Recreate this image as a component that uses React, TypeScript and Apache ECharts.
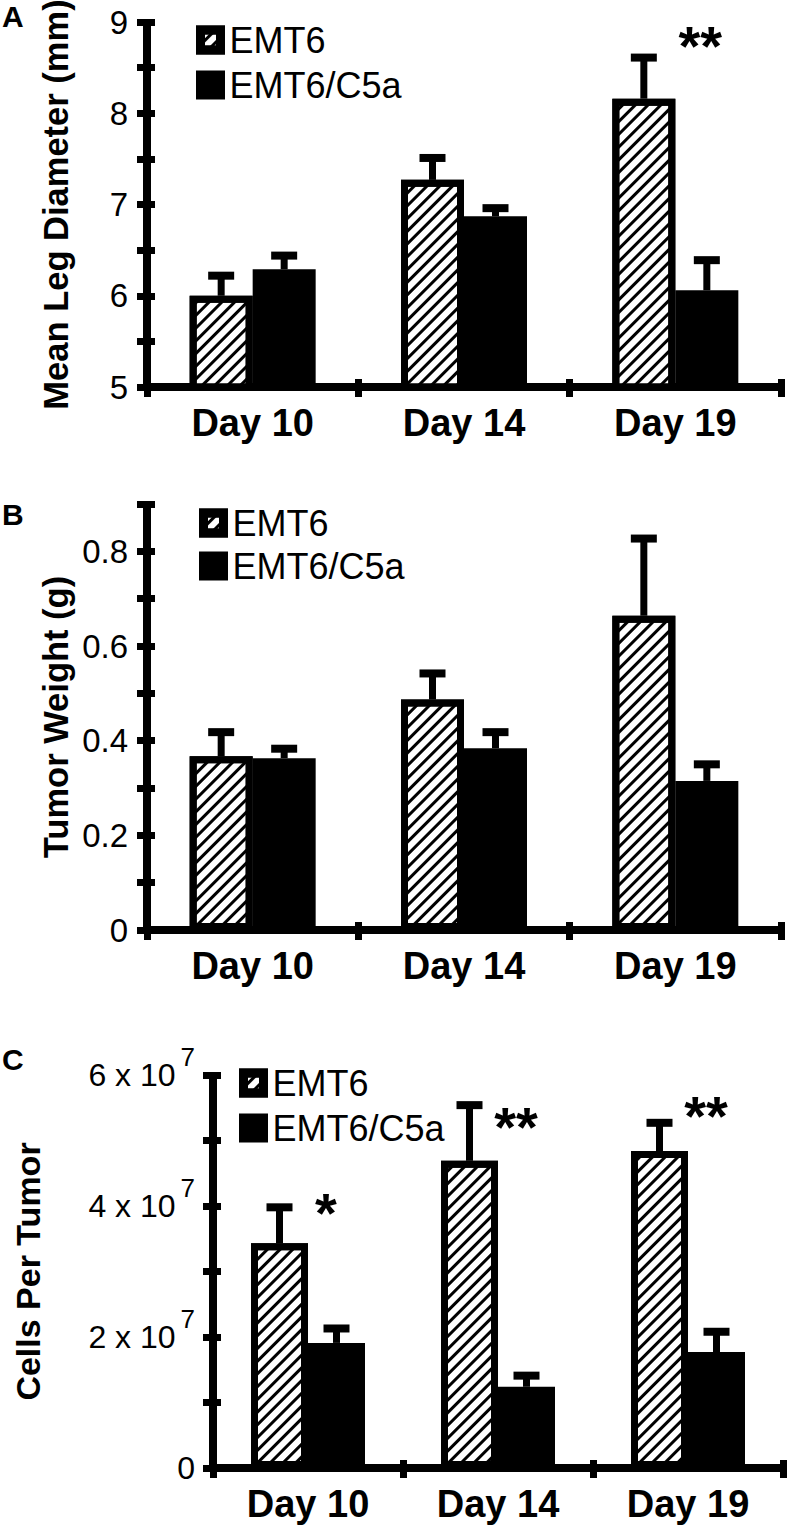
import React, { useEffect, useRef } from "react";
import * as echarts from "echarts";

const FONT = '"Liberation Sans", Arial, Helvetica, sans-serif';

// ---------- data ----------
const categories = ["Day 10", "Day 14", "Day 19"];

// Panel A: mean leg diameter (mm)
const diamEMT6 = [6.0, 7.27, 8.16];
const diamEMT6Err = [0.22, 0.24, 0.45];
const diamC5a = [6.29, 6.87, 6.06];
const diamC5aErr = [0.15, 0.09, 0.33];
const diamStars = ["", "", "**"];
const diamStarLevel = [0, 0, 8.85];

// Panel B: tumor weight (g)
const weightEMT6 = [0.367, 0.487, 0.664];
const weightEMT6Err = [0.051, 0.055, 0.163];
const weightC5a = [0.363, 0.384, 0.315];
const weightC5aErr = [0.02, 0.034, 0.035];

// Panel C: cells per tumor
const cellsEMT6 = [3.43e7, 4.69e7, 4.84e7];
const cellsEMT6Err = [0.55e7, 0.85e7, 0.43e7];
const cellsC5a = [1.91e7, 1.24e7, 1.77e7];
const cellsC5aErr = [0.22e7, 0.17e7, 0.31e7];
const cellsStars = ["*", "**", "**"];
const cellsStarLevel = [4.05e7, 5.36e7, 5.53e7];

const seriesNames = ["EMT6", "EMT6/C5a"];
const panelLetters = ["A", "B", "C"];
const yTitles = ["Mean Leg Diameter (mm)", "Tumor Weight (g)", "Cells Per Tumor"];

// ---------- styling helpers ----------
const hatch = {
  symbol: "rect",
  symbolSize: 1,
  color: "#000",
  backgroundColor: "#fff",
  dashArrayX: [1, 0],
  dashArrayY: [3, 6],
  rotation: -Math.PI / 4,
};

type PanelCfg = {
  grid: { left: number; top: number; width: number; height: number };
  min: number;
  max: number;
  interval: number;
  labelFormatter: (v: number) => string;
  rich?: any;
  labelFont: number;
  labelMargin: number;
  nameGap: number;
  nameFont: number;
  barWidth: number;
  emt6: number[];
  emt6Err: number[];
  c5a: number[];
  c5aErr: number[];
  stars?: string[];
  starLevel?: number[];
  starOffset?: number[];
  legend: { left: number; top: number; itemGap: number };
  letterTop: number;
};

const panels: PanelCfg[] = [
  {
    grid: { left: 147, top: 22, width: 634, height: 365 },
    min: 5,
    max: 9,
    interval: 0.5,
    labelFormatter: (v) => (Math.abs(v - Math.round(v)) < 1e-6 ? String(Math.round(v)) : ""),
    labelFont: 33,
    labelMargin: 19,
    nameGap: 74,
    nameFont: 34.5,
    barWidth: 63,
    emt6: diamEMT6,
    emt6Err: diamEMT6Err,
    c5a: diamC5a,
    c5aErr: diamC5aErr,
    stars: diamStars,
    starLevel: diamStarLevel,
    starOffset: [25, 10],
    legend: { left: 196, top: 22, itemGap: 9 },
    letterTop: 1,
  },
  {
    grid: { left: 147, top: 504, width: 634, height: 426 },
    min: 0,
    max: 0.9,
    interval: 0.1,
    labelFormatter: (v) => {
      const k = Math.round(v * 10);
      if (k % 2 !== 0) return "";
      return k === 0 ? "0" : (k / 10).toFixed(1);
    },
    labelFont: 33,
    labelMargin: 19,
    nameGap: 74,
    nameFont: 34.5,
    barWidth: 63,
    emt6: weightEMT6,
    emt6Err: weightEMT6Err,
    c5a: weightC5a,
    c5aErr: weightC5aErr,
    legend: { left: 199, top: 505, itemGap: 7 },
    letterTop: 499,
  },
  {
    grid: { left: 213, top: 1075, width: 570, height: 393 },
    min: 0,
    max: 6e7,
    interval: 1e7,
    labelFormatter: (v) => {
      const k = Math.round(v / 1e7);
      if (k % 2 !== 0) return "";
      return k === 0 ? "{m|0}" : `{m|${k} x 10}{s|7}`;
    },
    rich: {
      m: { fontSize: 32, fontFamily: FONT, color: "#000", lineHeight: 62 },
      s: { fontSize: 26, fontFamily: FONT, color: "#000", lineHeight: 26, verticalAlign: "top", padding: [0, 0, 0, 5] },
    },
    labelFont: 32,
    labelMargin: 18,
    nameGap: 168,
    nameFont: 34,
    barWidth: 57,
    emt6: cellsEMT6,
    emt6Err: cellsEMT6Err,
    c5a: cellsC5a,
    c5aErr: cellsC5aErr,
    stars: cellsStars,
    starLevel: cellsStarLevel,
    starOffset: [18, 10],
    legend: { left: 239, top: 1065, itemGap: 9 },
    letterTop: 1044,
  },
];

function errorBars(xi: number, yi: number, mean: number[], err: number[], side: number, bw: number) {
  return {
    type: "custom",
    xAxisIndex: xi,
    yAxisIndex: yi,
    z: 5,
    silent: true,
    data: mean.map((m, i) => [i, m, m + err[i]]),
    encode: { x: 0, y: [1, 2] },
    renderItem: (params: any, api: any) => {
      const idx = api.value(0);
      const top = api.coord([idx, api.value(2)]);
      const base = api.coord([idx, api.value(1)]);
      const cx = top[0] + (side * bw) / 2;
      return {
        type: "group",
        children: [
          { type: "rect", shape: { x: cx - 3.5, y: top[1], width: 7, height: base[1] - top[1] }, style: { fill: "#000" } },
          { type: "rect", shape: { x: cx - 13, y: top[1] - 4, width: 26, height: 8 }, style: { fill: "#000" } },
        ],
      };
    },
  };
}

function buildOption() {
  const grid: any[] = [];
  const xAxis: any[] = [];
  const yAxis: any[] = [];
  const series: any[] = [];
  const legend: any[] = [];
  const graphic: any[] = [];

  panels.forEach((p, pi) => {
    grid.push({ ...p.grid, containLabel: false, outerBoundsMode: "none" });
    const axisLine = { show: true, lineStyle: { color: "#000", width: 8, cap: "butt" } };
    xAxis.push({
      type: "category",
      gridIndex: pi,
      data: categories,
      position: "bottom",
      axisLine,
      axisTick: { show: true, inside: false, length: 10, lineStyle: { color: "#000", width: 7 } },
      axisLabel: { fontFamily: FONT, fontSize: 38, fontWeight: "bold", color: "#000", margin: 17 },
      splitLine: { show: false },
    });
    xAxis.push({
      type: "category",
      gridIndex: pi,
      data: categories,
      position: "bottom",
      axisLine,
      axisTick: { show: true, inside: true, length: 8, lineStyle: { color: "#000", width: 7 } },
      axisLabel: { show: false },
      splitLine: { show: false },
    });
    yAxis.push({
      type: "value",
      gridIndex: pi,
      min: p.min,
      max: p.max,
      interval: p.interval,
      position: "left",
      axisLine,
      axisTick: { show: true, inside: false, length: 10, lineStyle: { color: "#000", width: 7 } },
      axisLabel: {
        fontFamily: FONT,
        fontSize: p.labelFont,
        color: "#000",
        margin: p.labelMargin,
        formatter: p.labelFormatter,
        rich: p.rich,
        showMinLabel: true,
        showMaxLabel: true,
      },
      splitLine: { show: false },
      name: yTitles[pi],
      nameLocation: "middle",
      nameRotate: 90,
      nameGap: p.nameGap,
      nameTruncate: { maxWidth: 800 },
      nameMoveOverlap: false,
      nameTextStyle: { fontFamily: FONT, fontSize: p.nameFont, fontWeight: "bold", color: "#000", overflow: "none", width: 800 },
    });
    yAxis.push({
      type: "value",
      gridIndex: pi,
      min: p.min,
      max: p.max,
      interval: p.interval,
      position: "left",
      axisLine,
      axisTick: { show: true, inside: true, length: 8, lineStyle: { color: "#000", width: 7 } },
      axisLabel: { show: false },
      splitLine: { show: false },
    });
    const xi = pi * 2;
    const yi = pi * 2;
    series.push({
      type: "bar",
      name: seriesNames[0],
      xAxisIndex: xi,
      yAxisIndex: yi,
      data: p.emt6,
      barWidth: p.barWidth,
      barGap: "0%",
      z: 2,
      silent: true,
      itemStyle: { color: "#fff", borderColor: "#000", borderWidth: 7, decal: hatch },
    });
    series.push({
      type: "bar",
      name: seriesNames[1],
      xAxisIndex: xi,
      yAxisIndex: yi,
      data: p.c5a,
      barWidth: p.barWidth,
      barGap: "0%",
      z: 3,
      silent: true,
      itemStyle: { color: "#000", borderWidth: 0 },
    });
    series.push(errorBars(xi, yi, p.emt6, p.emt6Err, -1, p.barWidth));
    series.push(errorBars(xi, yi, p.c5a, p.c5aErr, 1, p.barWidth));
    if (p.stars) {
      const data = p.stars
        .map((s, i) => (s ? { name: s, value: [i, p.starLevel![i]] } : null))
        .filter(Boolean);
      series.push({
        type: "scatter",
        xAxisIndex: xi,
        yAxisIndex: yi,
        symbolSize: 1,
        silent: true,
        z: 6,
        itemStyle: { color: "rgba(0,0,0,0)" },
        data,
        label: {
          show: true,
          position: "inside",
          formatter: "{b}",
          fontFamily: FONT,
          fontSize: 56,
          fontWeight: "bold",
          color: "#000",
          textBorderWidth: 0,
          opacity: 1,
          offset: p.starOffset,
        },
      });
    }
    legend.push({
      orient: "vertical",
      left: p.legend.left,
      top: p.legend.top,
      padding: 0,
      itemGap: p.legend.itemGap,
      itemWidth: 20,
      itemHeight: 20,
      selectedMode: false,
      textStyle: { fontFamily: FONT, fontSize: 36, color: "#000", padding: [0, 0, 0, 4] },
      data: [
        { name: seriesNames[0], icon: "rect", itemStyle: { color: "#fff", borderColor: "#000", borderWidth: 9, decal: hatch } },
        { name: seriesNames[1], icon: "rect", itemStyle: { color: "#000", borderColor: "#000", borderWidth: 9 } },
      ],
    });
    graphic.push({
      type: "text",
      left: 2,
      top: p.letterTop,
      style: { text: panelLetters[pi], fontFamily: FONT, fontSize: 30, fontWeight: "bold", fill: "#000" },
    });
  });

  return {
    animation: false,
    backgroundColor: "#fff",
    textStyle: { fontFamily: FONT },
    grid,
    xAxis,
    yAxis,
    series,
    legend,
    graphic,
  };
}

export default function App() {
  const ref = useRef<HTMLDivElement>(null);
  useEffect(() => {
    if (!ref.current) return;
    const chart = echarts.init(ref.current, null, { renderer: "svg" });
    chart.setOption(buildOption() as any);
    return () => chart.dispose();
  }, []);
  return (
    <div
      ref={ref}
      style={{ position: "absolute", left: 0, top: 0, width: 787, height: 1533, background: "#fff" }}
    />
  );
}
